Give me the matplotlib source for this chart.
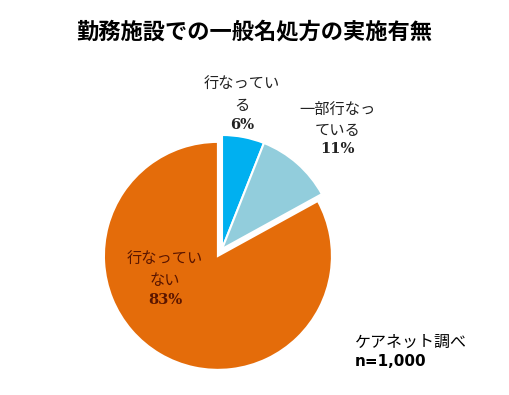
import matplotlib
matplotlib.use('Agg')
import matplotlib.pyplot as plt

plt.rcParams['font.family'] = ['Noto Sans CJK JP', 'DejaVu Sans']

title = '勤務施設での一般名処方の実施有無'
labels = ['行なってい\nる', '一部行なっ\nている', '行なってい\nない']
values = [6, 11, 83]
colors = ['#00B0F0', '#92CDDC', '#E46C0A']
source = 'ケアネット調べ'
n_text = 'n=1,000'

W, H = 509, 395
cx, cy, R = 222, 249, 114  # pie centre and radius in pixels

def px(x, y):
	return (x - cx) / R, (cy - y) / R

fig = plt.figure(figsize=(W / 100, H / 100), dpi=100)
ax = fig.add_axes([0, 0, 1, 1])
ax.pie(values, colors=colors, startangle=90, counterclock=False,
	explode=[0, 0, 0.07], wedgeprops=dict(edgecolor='white', linewidth=1.5))
ax.set_xlim(-cx / R, (W - cx) / R)
ax.set_ylim(-(H - cy) / R, cy / R)
ax.set_aspect('auto')
ax.axis('off')

# label name / percent positions (pixels)
name_pos = [(242, 95), (338, 120), (165, 270)]
pct_pos = [(242, 125), (338, 149), (165, 300)]
txt_col = ['#222222', '#222222', '#5a1500']
for lab, v, npos, ppos, c in zip(labels, values, name_pos, pct_pos, txt_col):
	ax.text(*px(*npos), lab, ha='center', va='center', fontsize=11,
		linespacing=1.25, color=c)
	ax.text(*px(*ppos), '%d%%' % v, ha='center', va='center', fontsize=10.5,
		fontweight='bold', color=c, family=['DejaVu Serif'])

fig.text(254 / W, 1 - 32 / H, title, ha='center', va='center',
	fontsize=16, fontweight='bold')
fig.text(355 / W, 1 - 342 / H, source, ha='left', va='center', fontsize=11.5)
fig.text(355 / W, 1 - 362 / H, n_text, ha='left', va='center', fontsize=11,
	fontweight='bold', family=['DejaVu Sans'])

fig.savefig('out.png', dpi=100)
